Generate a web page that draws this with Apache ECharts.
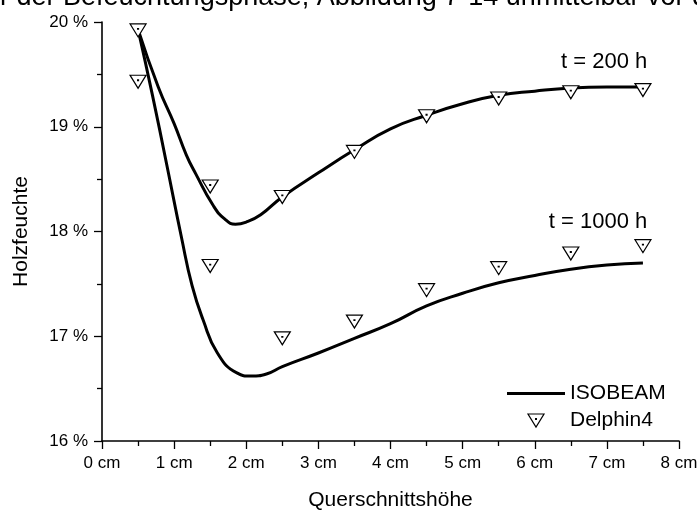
<!DOCTYPE html>
<html>
<head>
<meta charset="utf-8">
<script src="https://cdn.jsdelivr.net/npm/echarts@6/dist/echarts.min.js"></script>
<style>
  html, body { margin: 0; padding: 0; background: #fff; }
  #chart { width: 697px; height: 510px; }
</style>
</head>
<body>
<div id="chart"></div>
<script>
// Querschnittshöhe positions of the Delphin4 results (cm)
const delphinX = [0.5, 1.5, 2.5, 3.5, 4.5, 5.5, 6.5, 7.5];
// Delphin4 moisture content (%)
const delphin200 = [19.92, 18.43, 18.33, 18.76, 19.10, 19.27, 19.33, 19.35];
const delphin1000 = [19.43, 17.67, 16.98, 17.14, 17.44, 17.65, 17.79, 17.86];

// ISOBEAM profile, t = 200 h
const iso200X = [0.5, 0.78, 1.0, 1.17, 1.3, 1.54, 1.7, 1.85, 2.0, 2.2, 2.5, 3.0, 3.5, 4.0, 4.5, 5.0, 5.5, 6.0, 6.5, 7.0, 7.5];
const iso200Y = [19.93, 19.38, 19.03, 18.73, 18.55, 18.25, 18.12, 18.07, 18.09, 18.16, 18.33, 18.56, 18.78, 18.98, 19.11, 19.22, 19.30, 19.34, 19.37, 19.38, 19.38];

// ISOBEAM profile, t = 1000 h
const iso1000X = [0.5, 0.7, 0.9, 1.1, 1.25, 1.4, 1.6, 1.87, 2.07, 2.28, 2.5, 3.0, 3.5, 4.0, 4.5, 5.0, 5.5, 6.0, 6.5, 7.0, 7.5];
const iso1000Y = [19.93, 19.30, 18.63, 17.95, 17.48, 17.16, 16.84, 16.65, 16.62, 16.64, 16.71, 16.84, 16.98, 17.12, 17.29, 17.41, 17.51, 17.58, 17.64, 17.68, 17.70];

// Axis ticks
const xTicks = { min: 0, max: 8, step: 1 };
const yTicks = { min: 16, max: 20, step: 1 };

// Curve annotations
const curveLabels = [
  { text: 't = 200 h', x: 7.56, y: 19.62 },
  { text: 't = 1000 h', x: 7.56, y: 18.09 }
];

const headingText = 'r der Befeuchtungsphase, Abbildung 7-14 unmittelbar vor d';

const FONT = '"Liberation Sans", Arial, Helvetica, sans-serif';
const INK = '#000';

const zip = (xs, ys) => xs.map((x, i) => [x, ys[i]]);

// open down-pointing triangle with a small centre dot
const triangle = 'path://M0,0L16,0L8,13Z M7.6,4.6L8.4,4.6L8.4,5.4L7.6,5.4Z';
// plain line sample for the ISOBEAM legend entry
const lineIcon = 'path://M0,0L58,0L58,3L0,3Z';

const lineStyle = { color: INK, width: 3 };

const chart = echarts.init(document.getElementById('chart'), null, { renderer: 'canvas' });

const axisCommon = {
  axisLine: { show: true, onZero: false, lineStyle: { color: INK, width: 1.6 } },
  axisTick: { show: true, inside: false, length: 8, lineStyle: { color: INK, width: 1.3 } },
  minorTick: { show: true, splitNumber: 2, length: 5, lineStyle: { color: INK, width: 1.3 } },
  splitLine: { show: false },
  nameTextStyle: { fontFamily: FONT, fontSize: 21, color: INK }
};

const option = {
  backgroundColor: '#fff',
  animation: false,
  textStyle: { fontFamily: FONT, color: INK },
  grid: { left: 102, right: 18, top: 22, bottom: 69, containLabel: false, outerBoundsMode: 'none' },
  legend: {
    orient: 'vertical',
    left: 502,
    top: 378,
    itemWidth: 58,
    itemHeight: 13,
    itemGap: 6,
    symbolKeepAspect: true,
    textStyle: { fontFamily: FONT, fontSize: 21, color: INK },
    data: [
      { name: 'ISOBEAM', icon: lineIcon, itemStyle: { color: INK, borderWidth: 0 } },
      { name: 'Delphin4', icon: triangle, itemStyle: { color: '#fff', borderColor: INK, borderWidth: 1.2 } }
    ]
  },
  xAxis: Object.assign({
    type: 'value',
    min: xTicks.min,
    max: xTicks.max,
    interval: xTicks.step,
    name: 'Querschnittshöhe',
    nameLocation: 'middle',
    nameGap: 49,
    axisLabel: { margin: 14, fontFamily: FONT, fontSize: 17, color: INK, formatter: '{value} cm' }
  }, axisCommon),
  yAxis: Object.assign({
    type: 'value',
    min: yTicks.min,
    max: yTicks.max,
    interval: yTicks.step,
    name: 'Holzfeuchte',
    nameLocation: 'middle',
    nameRotate: 90,
    nameGap: 70,
    axisLabel: { margin: 14, fontFamily: FONT, fontSize: 17, color: INK, formatter: '{value} %' }
  }, axisCommon),
  series: [
    {
      name: 'ISOBEAM',
      type: 'line',
      data: zip(iso200X, iso200Y),
      smooth: 0.5,
      symbol: 'none',
      lineStyle: lineStyle,
      itemStyle: { color: INK },
      z: 2
    },
    {
      name: 'ISOBEAM',
      type: 'line',
      data: zip(iso1000X, iso1000Y),
      smooth: 0.5,
      symbol: 'none',
      lineStyle: lineStyle,
      itemStyle: { color: INK },
      z: 2
    },
    {
      name: 'Delphin4',
      type: 'scatter',
      data: zip(delphinX, delphin200),
      symbol: triangle,
      symbolSize: [16, 13],
      itemStyle: { color: '#fff', borderColor: INK, borderWidth: 1.2, opacity: 1 },
      z: 3
    },
    {
      name: 'Delphin4',
      type: 'scatter',
      data: zip(delphinX, delphin1000),
      symbol: triangle,
      symbolSize: [16, 13],
      itemStyle: { color: '#fff', borderColor: INK, borderWidth: 1.2, opacity: 1 },
      z: 3
    }
  ]
};

chart.setOption(option);

// Place the curve annotations and the page heading above the plot
const annotations = curveLabels.map(l => {
  const p = chart.convertToPixel({ gridIndex: 0 }, [l.x, l.y]);
  return {
    type: 'text',
    x: p[0],
    y: p[1],
    style: {
      text: l.text,
      font: '22px ' + FONT,
      fill: INK,
      align: 'right',
      verticalAlign: 'middle'
    }
  };
});

chart.setOption({
  graphic: annotations.concat([{
    type: 'text',
    x: 0,
    y: 11,
    style: {
      text: headingText,
      font: '27px ' + FONT,
      fill: INK,
      align: 'left',
      verticalAlign: 'bottom'
    }
  }])
});
</script>
</body>
</html>
